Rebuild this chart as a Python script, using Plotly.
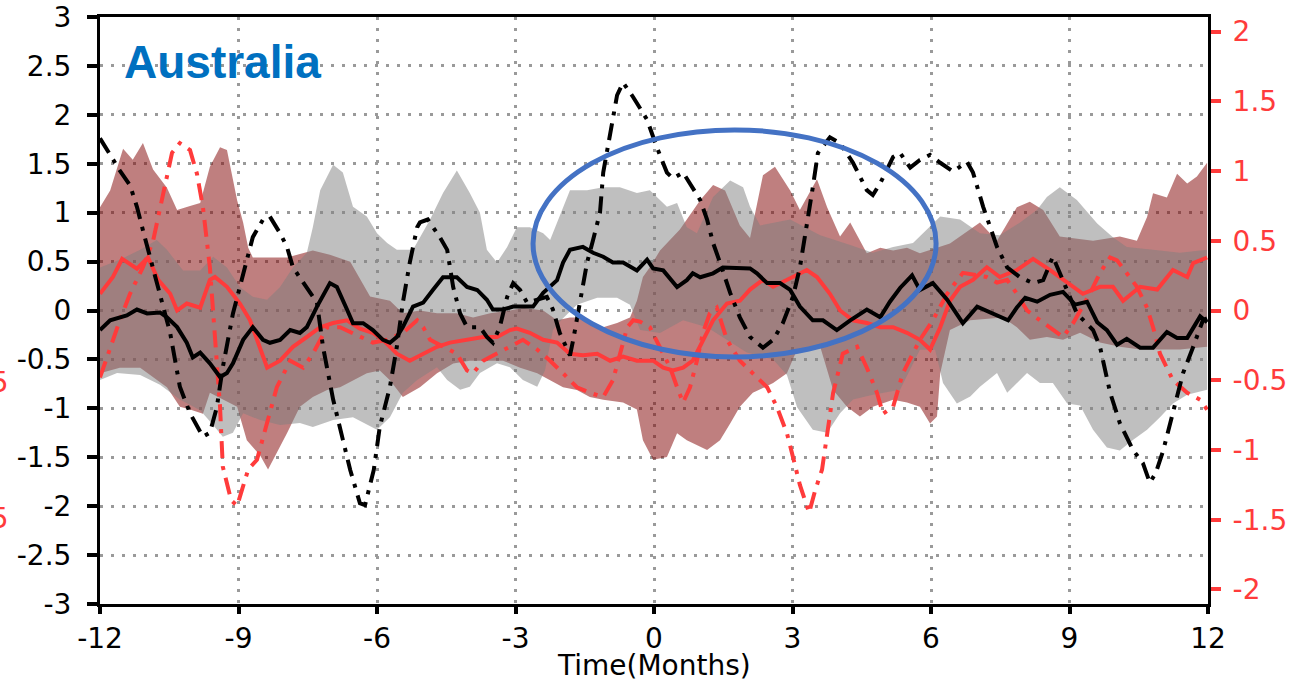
import plotly.graph_objects as go

# ---- composite series (months relative to onset) ----
# black: left axis; red: right axis

black_mean_x = [-12.00, -11.78, -11.42, -11.20, -10.98, -10.70, -10.55, -10.33, -10.12, -9.99, -9.83, -9.62,
                -9.40, -9.25, -9.12, -8.90, -8.69, -8.47, -8.32, -8.10, -7.88, -7.67, -7.52, -7.30, -7.02,
                -6.87, -6.65, -6.52, -6.30, -6.09, -5.87, -5.72, -5.57, -5.44, -5.22, -5.00, -4.79, -4.57,
                -4.27, -4.05, -3.83, -3.62, -3.49, -3.27, -3.05, -2.84, -2.62, -2.40, -2.10, -1.97, -1.82,
                -1.54, -1.32, -1.10, -0.89, -0.67, -0.37, -0.15, -0.02, 0.20, 0.50, 0.71, 0.84, 1.00, 1.28,
                1.49, 1.80, 2.08, 2.23, 2.45, 2.73, 2.95, 3.16, 3.44, 3.66, 3.96, 4.25, 4.61, 4.90, 5.11,
                5.33, 5.59, 5.76, 6.04, 6.35, 6.69, 7.00, 7.34, 7.67, 7.86, 8.04, 8.30, 8.58, 8.86, 9.12,
                9.38, 9.60, 9.81, 10.03, 10.24, 10.53, 10.81, 11.11, 11.33, 11.55, 11.83, 11.98]
black_mean = [-0.20, -0.10, -0.05, 0.01, -0.03, -0.02, -0.07, -0.17, -0.33, -0.48, -0.43, -0.54,
              -0.68, -0.64, -0.54, -0.30, -0.17, -0.30, -0.33, -0.30, -0.20, -0.23, -0.17, 0.04, 0.28,
              0.24, 0.01, -0.13, -0.13, -0.20, -0.30, -0.33, -0.27, -0.17, 0.04, 0.08, 0.21, 0.34,
              0.34, 0.24, 0.21, 0.11, 0.01, 0.01, 0.04, 0.04, 0.04, 0.18, 0.31, 0.49, 0.62,
              0.65, 0.59, 0.55, 0.49, 0.49, 0.41, 0.52, 0.43, 0.41, 0.24, 0.31, 0.38, 0.34, 0.38,
              0.44, 0.44, 0.43, 0.38, 0.28, 0.28, 0.21, 0.04, -0.10, -0.10, -0.20, -0.10, 0.01, -0.07, 0.09,
              0.23, 0.36, 0.21, 0.28, 0.11, -0.13, 0.04, -0.03, -0.10, 0.03, 0.13, 0.09, 0.16, 0.19, 0.06,
              0.09, -0.12, -0.20, -0.35, -0.29, -0.38, -0.38, -0.22, -0.28, -0.28, -0.06, -0.12]

black_event_x = [-12.00, -11.78, -11.57, -11.35, -11.20, -11.07, -10.92, -10.77, -10.64, -10.48, -10.27,
                 -10.05, -9.77, -9.62, -9.47, -9.34, -9.12, -8.90, -8.69, -8.47, -8.32, -8.10, -7.95,
                 -7.82, -7.52, -7.30, -7.17, -6.95, -6.74, -6.58, -6.37, -6.26, -6.07, -5.94, -5.72,
                 -5.57, -5.44, -5.29, -5.13, -5.07, -4.90, -4.64, -4.48, -4.35, -4.20, -4.05, -3.77,
                 -3.62, -3.49, -3.34, -3.18, -3.05, -2.90, -2.75, -2.32, -2.19, -2.04, -1.88, -1.82,
                 -1.75, -1.60, -1.45, -1.32, -1.17, -1.10, -0.99, -0.80, -0.67, -0.45, -0.15, 0.06,
                 0.28, 0.41, 0.63, 0.84, 1.00, 1.15, 1.28, 1.43, 1.65, 1.86, 2.08, 2.36, 2.58, 2.79,
                 3.01, 3.16, 3.31, 3.44, 3.55, 3.81, 4.03, 4.31, 4.61, 4.74, 4.90, 5.18, 5.33, 5.55,
                 5.76, 5.98, 6.20, 6.48, 6.78, 6.91, 7.13, 7.43, 7.65, 7.93, 8.21, 8.43, 8.64, 8.86,
                 9.16, 9.51, 9.66, 9.88, 10.09, 10.38, 10.59, 10.74, 10.87, 11.03, 11.24, 11.46,
                 11.68, 11.89, 11.98]
black_event = [1.76, 1.59, 1.43, 1.28, 1.06, 0.82, 0.55, 0.31, 0.04, -0.23, -0.78,
               -1.05, -1.29, -1.25, -0.99, -0.58, -0.03, 0.38, 0.75, 0.93, 0.96, 0.79, 0.65,
               0.44, 0.24, 0.08, -0.37, -0.91, -1.32, -1.63, -1.97, -1.99, -1.63, -1.19, -0.78,
               -0.37, 0.08, 0.49, 0.85, 0.90, 0.93, 0.75, 0.62, 0.24, -0.03, -0.17, -0.17,
               -0.27, -0.33, -0.17, 0.14, 0.28, 0.21, 0.08, 0.14, 0.01, -0.23, -0.40, -0.46,
               -0.30, 0.11, 0.49, 0.72, 1.00, 1.41, 1.71, 2.20, 2.33, 2.18, 1.95, 1.67,
               1.41, 1.35, 1.41, 1.26, 1.13, 0.93, 0.69, 0.49, 0.18, -0.07, -0.27, -0.38, -0.30, -0.13,
               0.14, 0.44, 0.85, 1.26, 1.61, 1.77, 1.71, 1.51, 1.23, 1.18, 1.30, 1.57, 1.61, 1.46,
               1.54, 1.59, 1.51, 1.42, 1.52, 1.41, 1.06, 0.65, 0.44, 0.34, 0.28, 0.31, 0.55, 0.31,
               -0.03, -0.20, -0.37, -0.84, -1.15, -1.43, -1.56, -1.76, -1.66, -1.43, -1.05, -0.64,
               -0.37, -0.10, -0.08]

red_mean_x = [-12.00, -11.72, -11.52, -11.20, -10.96, -10.74, -10.48, -10.33, -10.12, -9.83, -9.62,
              -9.51, -9.25, -8.97, -8.75, -8.60, -8.38, -8.10, -7.82, -7.52, -7.23, -6.95, -6.65,
              -6.37, -6.09, -5.87, -5.57, -5.29, -5.00, -4.70, -4.42, -4.05, -3.70, -3.40, -3.12,
              -2.97, -2.69, -2.40, -2.10, -1.82, -1.54, -1.23, -0.95, -0.67, -0.37, -0.02, 0.20,
              0.41, 0.63, 0.84, 1.06, 1.28, 1.58, 1.86, 2.08, 2.36, 2.58, 2.88, 3.16, 3.31, 3.53,
              3.81, 4.03, 4.31, 4.61, 4.90, 5.18, 5.48, 5.76, 5.98, 6.20, 6.41, 6.63, 6.91, 7.21,
              7.49, 7.86, 8.21, 8.58, 8.95, 9.29, 9.66, 9.94, 10.16, 10.53, 10.90, 11.24, 11.55,
              11.68, 11.98]
red_mean = [0.12, 0.24, 0.37, 0.30, 0.38, 0.22, 0.12, 0.00, 0.05, 0.02, 0.22,
            0.24, 0.17, 0.05, -0.07, -0.21, -0.41, -0.36, -0.26, -0.19, -0.12, -0.09, -0.07,
            -0.13, -0.16, -0.21, -0.31, -0.36, -0.31, -0.26, -0.23, -0.21, -0.19, -0.19, -0.14,
            -0.13, -0.16, -0.21, -0.23, -0.31, -0.32, -0.31, -0.36, -0.33, -0.36, -0.36, -0.41,
            -0.43, -0.41, -0.36, -0.21, -0.07, 0.05, 0.07, 0.15, 0.22, 0.17, 0.22, 0.27, 0.29, 0.24,
            0.12, 0.00, -0.07, -0.09, -0.12, -0.12, -0.16, -0.21, -0.28, -0.12, 0.07, 0.17, 0.22, 0.31,
            0.24, 0.29, 0.37, 0.29, 0.20, 0.12, 0.17, 0.17, 0.07, 0.17, 0.15, 0.29, 0.24,
            0.34, 0.38]

red_event_x = [-12.00, -11.78, -11.57, -11.35, -11.07, -10.85, -10.70, -10.55, -10.44, -10.27, -10.05,
               -9.90, -9.77, -9.62, -9.55, -9.47, -9.40, -9.34, -9.16, -9.03, -8.79, -8.60, -8.38,
               -8.17, -7.88, -7.60, -7.39, -7.08, -6.80, -6.37, -6.09, -5.78, -5.44, -5.13, -5.00,
               -4.85, -4.57, -4.27, -4.05, -3.92, -3.70, -3.40, -3.12, -2.84, -2.53, -2.25, -1.97,
               -1.67, -1.39, -1.10, -0.89, -0.74, -0.58, -0.45, -0.30, -0.09, 0.13, 0.35, 0.50,
               0.63, 0.78, 0.93, 1.06, 1.21, 1.36, 1.58, 1.86, 2.14, 2.45, 2.66, 2.88, 3.01, 3.16,
               3.36, 3.49, 3.64, 3.88, 4.09, 4.40, 4.61, 4.83, 4.96, 5.18, 5.39, 5.61, 5.76, 6.04,
               6.35, 6.69, 7.21, 7.43, 7.65, 7.86, 8.08, 8.36, 8.64, 8.86, 9.08, 9.23, 9.44, 9.66,
               9.88, 10.03, 10.24, 10.46, 10.68, 10.81, 10.96, 11.24, 11.55, 11.83, 11.98]
red_event = [-0.48, -0.26, -0.07, 0.12, 0.31, 0.50, 0.74, 0.96, 1.13, 1.20, 1.15,
             0.98, 0.74, 0.31, -0.02, -0.33, -0.69, -1.12, -1.36, -1.40, -1.14, -1.07, -0.81,
             -0.55, -0.36, -0.41, -0.31, -0.12, -0.12, -0.19, -0.23, -0.21, -0.16, -0.07, -0.12,
             -0.21, -0.26, -0.31, -0.43, -0.45, -0.36, -0.31, -0.26, -0.21, -0.28, -0.36, -0.45,
             -0.55, -0.59, -0.62, -0.50, -0.31, -0.12, -0.07, -0.08, -0.12, -0.26, -0.41, -0.55,
             -0.66, -0.55, -0.36, -0.16, -0.02, 0.02, -0.21, -0.36, -0.45, -0.55, -0.69, -0.88, -1.05, -1.25,
             -1.45, -1.29, -1.14, -0.59, -0.31, -0.26, -0.41, -0.59, -0.74, -0.69, -0.45, -0.31, -0.21, -0.07,
             0.12, 0.27, 0.24, 0.20, 0.22, 0.12, 0.00, -0.07, -0.14, -0.19, -0.09, 0.00, 0.12, 0.27,
             0.38, 0.36, 0.27, 0.17, 0.02, -0.12, -0.31, -0.50, -0.59, -0.64, -0.71]

# spread envelopes
gray_hi_x = [-12.00, -11.57, -11.13, -10.77, -10.55, -10.20, -9.83, -9.55, -9.25, -8.97, -8.69, -8.38,
             -8.10, -7.82, -7.52, -7.39, -7.23, -6.95, -6.74, -6.52, -6.22, -6.00, -5.78, -5.57,
             -5.22, -4.85, -4.57, -4.27, -3.99, -3.77, -3.62, -3.40, -3.18, -2.97, -2.69, -2.40,
             -2.25, -2.04, -1.82, -1.45, -1.10, -0.74, -0.37, -0.09, 0.28, 0.50, 0.71, 0.93, 1.06,
             1.28, 1.65, 1.93, 2.08, 2.30, 2.95, 3.60, 4.25, 4.74, 5.18, 5.61, 6.20, 6.63, 7.06,
             7.49, 7.93, 8.30, 8.51, 8.79, 9.16, 9.60, 9.94, 10.24, 10.81, 11.39, 11.98]
gray_hi = [0.44, 0.52, 0.62, 0.72, 0.62, 0.41, 0.41, 0.55, 0.44, 0.24, 0.14, 0.11,
           0.24, 0.44, 0.59, 0.85, 1.23, 1.49, 1.41, 1.06, 0.96, 0.79, 0.69, 0.62,
           0.62, 0.93, 1.20, 1.43, 1.20, 1.00, 0.62, 0.49, 0.65, 0.85, 0.85, 0.79,
           0.72, 0.96, 1.23, 1.23, 1.26, 1.26, 1.20, 1.23, 1.06, 1.10, 0.85, 0.79, 0.93,
           1.16, 1.33, 1.26, 1.06, 0.87, 0.93, 0.77, 0.67, 0.59, 0.65, 0.69, 0.96, 0.93, 0.79,
           0.77, 0.90, 1.03, 1.16, 1.26, 1.13, 0.89, 0.75, 0.65, 0.62, 0.59, 0.62]
gray_lo_x = [-12.00, -11.63, -11.13, -10.70, -10.27, -9.83, -9.55, -9.34, -9.12, -8.90, -8.53, -8.10,
             -7.67, -7.39, -6.95, -6.52, -6.00, -5.72, -5.44, -5.13, -4.70, -4.48, -4.20, -3.99,
             -3.77, -3.40, -3.12, -2.84, -2.53, -2.36, -2.19, -1.97, -1.67, -1.23, -0.80, -0.52,
             -0.30, 0.13, 0.63, 1.15, 1.58, 2.01, 2.58, 2.88, 3.10, 3.44, 3.75, 4.03, 4.31, 4.74,
             5.33, 5.76, 6.09, 6.26, 6.56, 6.85, 7.06, 7.43, 7.65, 8.08, 8.36, 8.64, 8.95, 9.23,
             9.51, 9.81, 10.09, 10.38, 10.68, 10.96, 11.24, 11.55, 11.98]
gray_lo = [-0.71, -0.64, -0.66, -0.76, -0.91, -1.02, -1.17, -1.29, -1.25, -1.05, -1.12, -1.17,
           -1.15, -1.19, -1.12, -1.09, -1.22, -1.09, -0.84, -0.71, -0.58, -0.71, -0.81, -0.78,
           -0.64, -0.54, -0.58, -0.71, -0.78, -0.61, -0.20, -0.08, 0.06, 0.13, 0.13, 0.06,
           -0.20, -0.23, -0.10, -0.17, -0.30, -0.43, -0.50, -0.66, -0.99, -1.22, -1.25, -1.05, -0.91, -0.86,
           -0.81, -0.40, -0.40, -0.74, -0.95, -0.88, -0.78, -0.64, -0.84, -0.64, -0.74, -0.74, -0.95, -0.97,
           -1.22, -1.40, -1.43, -1.32, -1.22, -1.09, -0.95, -0.86, -0.81]

red_hi_x = [-12.00, -11.78, -11.50, -11.29, -11.07, -10.85, -10.55, -10.33, -10.05, -9.83, -9.62, -9.40,
            -9.25, -9.03, -8.90, -8.79, -8.69, -7.95, -7.39, -7.02, -6.58, -6.15, -5.72, -5.44,
            -5.07, -4.70, -4.27, -3.92, -3.55, -3.12, -2.84, -2.40, -2.10, -1.82, -1.54, -1.10,
            -0.80, -0.52, -0.37, -0.24, -0.09, 0.13, 0.56, 1.00, 1.28, 1.54, 1.86, 2.08, 2.36,
            2.62, 2.95, 3.16, 3.53, 3.75, 4.03, 4.25, 4.61, 4.90, 5.18, 5.48, 5.76, 6.41, 7.06,
            7.43, 7.86, 8.14, 8.43, 8.79, 9.51, 10.09, 10.46, 10.68, 10.81, 11.11, 11.33, 11.55,
            11.76, 11.98]
red_hi = [0.74, 0.86, 1.16, 1.08, 1.20, 1.01, 0.88, 0.72, 0.75, 0.77, 1.03, 1.17,
          1.15, 0.79, 0.63, 0.45, 0.38, 0.38, 0.43, 0.40, 0.35, 0.10, 0.07, -0.02,
          0.00, -0.02, -0.02, -0.05, -0.02, 0.00, 0.02, 0.00, -0.07, -0.05, -0.05, -0.12,
          -0.09, -0.05, 0.07, 0.24, 0.31, 0.43, 0.58, 0.79, 0.90, 0.86, 0.61, 0.52, 0.97,
          1.03, 0.86, 0.72, 0.94, 0.74, 0.53, 0.63, 0.41, 0.45, 0.43, 0.45, 0.41, 0.48, 0.63,
          0.50, 0.74, 0.78, 0.72, 0.53, 0.50, 0.53, 0.50, 0.67, 0.84, 0.81, 0.98, 0.91,
          0.96, 1.06]
red_lo_x = [-12.00, -11.57, -11.13, -10.55, -10.27, -10.05, -9.77, -9.62, -9.03, -8.82, -8.53, -8.36,
            -7.95, -7.67, -7.39, -7.08, -6.80, -6.52, -6.22, -5.94, -5.72, -5.44, -5.07, -4.70,
            -4.35, -3.99, -3.62, -3.27, -2.90, -2.53, -2.25, -1.97, -1.67, -1.39, -1.10, -0.67,
            -0.37, -0.24, -0.02, 0.28, 0.50, 0.71, 1.15, 1.43, 1.65, 1.86, 2.14, 2.58, 2.88, 3.10,
            3.60, 3.88, 4.18, 4.46, 4.74, 5.18, 5.48, 5.76, 5.98, 6.13, 6.20, 6.41, 6.85, 7.56,
            7.86, 8.14, 8.51, 8.86, 9.23, 9.66, 10.09, 10.53, 10.96, 11.39, 11.98]
red_lo = [-0.45, -0.41, -0.41, -0.55, -0.69, -0.71, -0.74, -0.59, -0.69, -0.93, -1.04, -1.14,
          -0.88, -0.69, -0.62, -0.57, -0.55, -0.50, -0.45, -0.43, -0.50, -0.62, -0.55, -0.45,
          -0.38, -0.36, -0.36, -0.36, -0.41, -0.45, -0.50, -0.55, -0.57, -0.62, -0.64, -0.66,
          -0.71, -0.93, -1.07, -1.05, -0.88, -0.93, -1.00, -0.93, -0.81, -0.69, -0.59, -0.52, -0.45, -0.28,
          -0.26, -0.57, -0.69, -0.76, -0.69, -0.64, -0.66, -0.69, -0.81, -0.76, -0.45, -0.14, -0.07, -0.05,
          -0.12, -0.21, -0.19, -0.21, -0.16, -0.23, -0.26, -0.28, -0.28, -0.28, -0.26]

x_ticks = [-12, -9, -6, -3, 0, 3, 6, 9, 12]
left_ticks = [3, 2.5, 2, 1.5, 1, 0.5, 0, -0.5, -1, -1.5, -2, -2.5, -3]
right_ticks = [2, 1.5, 1, 0.5, 0, -0.5, -1, -1.5, -2]


def label(v):
    # plain ASCII hyphen for negatives
    return f"{v:g}"


RED = "#ff3b3b"
DASHDOT = "17px,8px,4px,8px"
LW = 4

fig = go.Figure()

# envelopes: red (right scale) underneath, gray (left scale) above it
fig.add_trace(go.Scatter(
    x=red_hi_x + red_lo_x[::-1], y=red_hi + red_lo[::-1],
    fill="toself", fillcolor="rgba(128,0,0,0.5)", line=dict(width=0),
    mode="lines", yaxis="y", hoverinfo="skip"))
fig.add_trace(go.Scatter(
    x=gray_hi_x + gray_lo_x[::-1], y=gray_hi + gray_lo[::-1],
    fill="toself", fillcolor="rgba(128,128,128,0.5)", line=dict(width=0),
    mode="lines", yaxis="y2", hoverinfo="skip"))

# red curves
fig.add_trace(go.Scatter(x=red_event_x, y=red_event, mode="lines", yaxis="y3",
                         line=dict(color=RED, width=LW, dash=DASHDOT)))
fig.add_trace(go.Scatter(x=red_mean_x, y=red_mean, mode="lines", yaxis="y3",
                         line=dict(color=RED, width=LW)))

# black curves
fig.add_trace(go.Scatter(x=black_event_x, y=black_event, mode="lines", yaxis="y4",
                         line=dict(color="black", width=LW, dash=DASHDOT)))
fig.add_trace(go.Scatter(x=black_mean_x, y=black_mean, mode="lines", yaxis="y4",
                         line=dict(color="black", width=LW)))

R_RANGE = [-2.104, 2.104]
L_RANGE = [-3, 3]
TICKFONT = dict(family="DejaVu Sans", size=28, color="black")

fig.update_layout(
    width=1292, height=683,
    margin=dict(l=100, r=84, t=17, b=79),
    paper_bgcolor="white", plot_bgcolor="white",
    showlegend=False, hovermode=False,
    xaxis=dict(
        range=[-12, 12], tickvals=x_ticks, ticktext=[label(v) for v in x_ticks],
        tickfont=TICKFONT, ticks="outside", ticklen=7, tickwidth=4, tickcolor="black",
        ticklabelstandoff=0,
        showline=True, linewidth=3, linecolor="black", mirror=True,
        showgrid=True, gridcolor="#9a9a9a", gridwidth=3, griddash="3px,8px",
        zeroline=False, automargin=False),
    yaxis=dict(
        side="right", range=R_RANGE, tickvals=right_ticks,
        ticktext=[label(v) for v in right_ticks],
        tickfont=dict(family="DejaVu Sans", size=28, color=RED),
        ticks="outside", ticklen=10, tickwidth=4, tickcolor=RED, ticklabelstandoff=6,
        showline=True, linewidth=3, linecolor="black",
        showgrid=False, zeroline=False, automargin=False),
    yaxis2=dict(
        overlaying="y", side="left", range=L_RANGE, tickvals=left_ticks,
        ticktext=[label(v) for v in left_ticks], tickfont=TICKFONT,
        ticks="outside", ticklen=10, tickwidth=4, tickcolor="black", ticklabelstandoff=10,
        showline=True, linewidth=3, linecolor="black",
        showgrid=True, gridcolor="#9a9a9a", gridwidth=3, griddash="3px,8px",
        zeroline=False, automargin=False),
    yaxis3=dict(overlaying="y", range=R_RANGE, visible=False),
    yaxis4=dict(overlaying="y", range=L_RANGE, visible=False),
)

# highlighted window
fig.add_shape(type="circle", xref="x", yref="y2",
              x0=-2.62, x1=6.11, y0=-0.475, y1=1.846,
              line=dict(color="#4472c4", width=5), layer="above")

fig.add_annotation(text="<b>Australia</b>", xref="paper", yref="paper",
                   x=0.0199, y=0.923, xanchor="left", yanchor="middle", showarrow=False,
                   font=dict(family="Liberation Sans, Arial", size=46, color="#0070c0"))
fig.add_annotation(text="Time(Months)", xref="paper", yref="paper",
                   x=0.5, y=-0.1045, xanchor="center", yanchor="middle", showarrow=False,
                   font=dict(family="DejaVu Sans", size=28, color="black"))
# right-axis labels of the neighbouring panel, cut by the page edge
for txt, yp in (("-0.5", 0.3765), ("-1.5", 0.1465)):
    fig.add_annotation(text=txt, xref="paper", yref="paper", x=-0.0803, y=yp,
                       xanchor="right", yanchor="middle", showarrow=False,
                       font=dict(family="DejaVu Sans", size=28, color=RED))

fig.write_html("out.html")
